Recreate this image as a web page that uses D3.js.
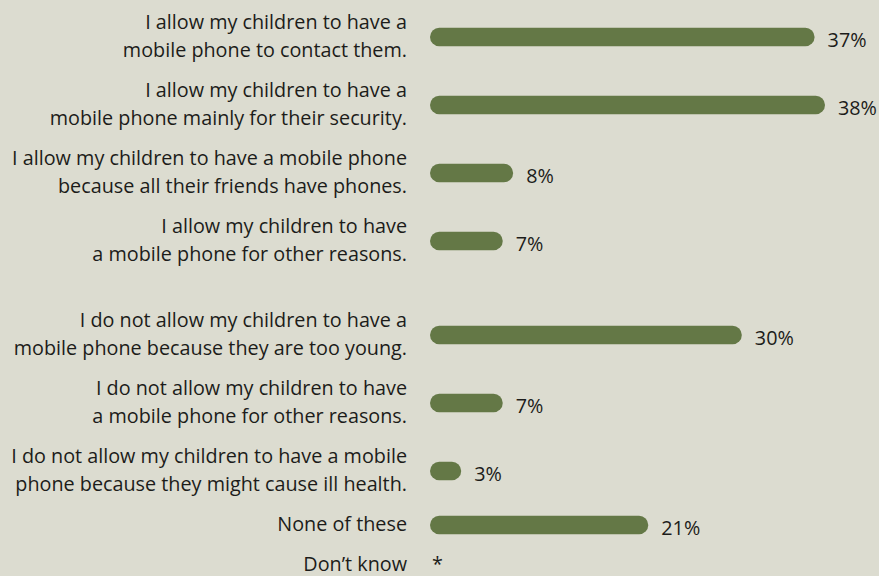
<!DOCTYPE html>
<html>
<head>
<meta charset="utf-8">
<script src="https://cdn.jsdelivr.net/npm/d3@7"></script>
<style>
  html, body { margin: 0; padding: 0; background: #dcdcd0; }
  svg { display: block; }
  text { font-family: "Open Sans", "Noto Sans", sans-serif; fill: #1c1c1a; }
</style>
</head>
<body>
<svg id="chart" width="879" height="576"></svg>
<script>
// Survey answers, each split into the lines shown on the left
const answers = [
  ["I allow my children to have a", "mobile phone to contact them."],
  ["I allow my children to have a", "mobile phone mainly for their security."],
  ["I allow my children to have a mobile phone", "because all their friends have phones."],
  ["I allow my children to have", "a mobile phone for other reasons."],
  ["I do not allow my children to have a", "mobile phone because they are too young."],
  ["I do not allow my children to have", "a mobile phone for other reasons."],
  ["I do not allow my children to have a mobile", "phone because they might cause ill health."],
  ["None of these"],
  ["Don\u2019t know"]
];
// Share of respondents (%); null = fewer than 0.5%
const shares = [37, 38, 8, 7, 30, 7, 3, 21, null];
const shareLabels = ["37%", "38%", "8%", "7%", "30%", "7%", "3%", "21%", "*"];
// Answer groups (a gap separates the groups)
const groups = [1, 1, 1, 1, 2, 2, 2, 2, 2];

const svg = d3.select("#chart");
const lineH = 28, rowPad = 12, groupGap = 26, barH = 18.5;
const fontSize = 19.8;

// Vertical layout: each row is as tall as its label block
let cursor = 3;
const rows = answers.map((lines, i) => {
  if (i > 0 && groups[i] !== groups[i - 1]) cursor += groupGap;
  const h = rowPad + lineH * lines.length;
  const r = { lines, value: shares[i], text: shareLabels[i], cy: cursor + h / 2 };
  cursor += h;
  return r;
});

const x = d3.scaleLinear().domain([0, 38]).range([430, 825]);

const row = svg.selectAll("g.row").data(rows).join("g").attr("class", "row");

// Left labels, right-aligned, block centred on the bar
row.each(function (d) {
  const g = d3.select(this);
  const n = d.lines.length;
  g.selectAll("text.lab").data(d.lines).join("text")
    .attr("class", "lab")
    .attr("x", 407)
    .attr("y", (t, j) => d.cy + 5.5 + (j - (n - 1) / 2) * lineH)
    .attr("text-anchor", "end")
    .style("font-size", fontSize + "px")
    .text(t => t);
});

// Rounded bars
row.filter(d => d.value != null).append("rect")
  .attr("x", x(0))
  .attr("y", d => d.cy - barH / 2)
  .attr("width", d => x(d.value) - x(0))
  .attr("height", barH)
  .attr("rx", barH / 2)
  .attr("fill", "#647846");

// Value labels
row.append("text")
  .attr("x", d => d.value != null ? x(d.value) + 13 : x(0) + 2)
  .attr("y", d => d.value != null ? d.cy + 9.5 : d.cy + 6)
  .style("font-size", fontSize + "px")
  .text(d => d.text);
</script>
</body>
</html>
